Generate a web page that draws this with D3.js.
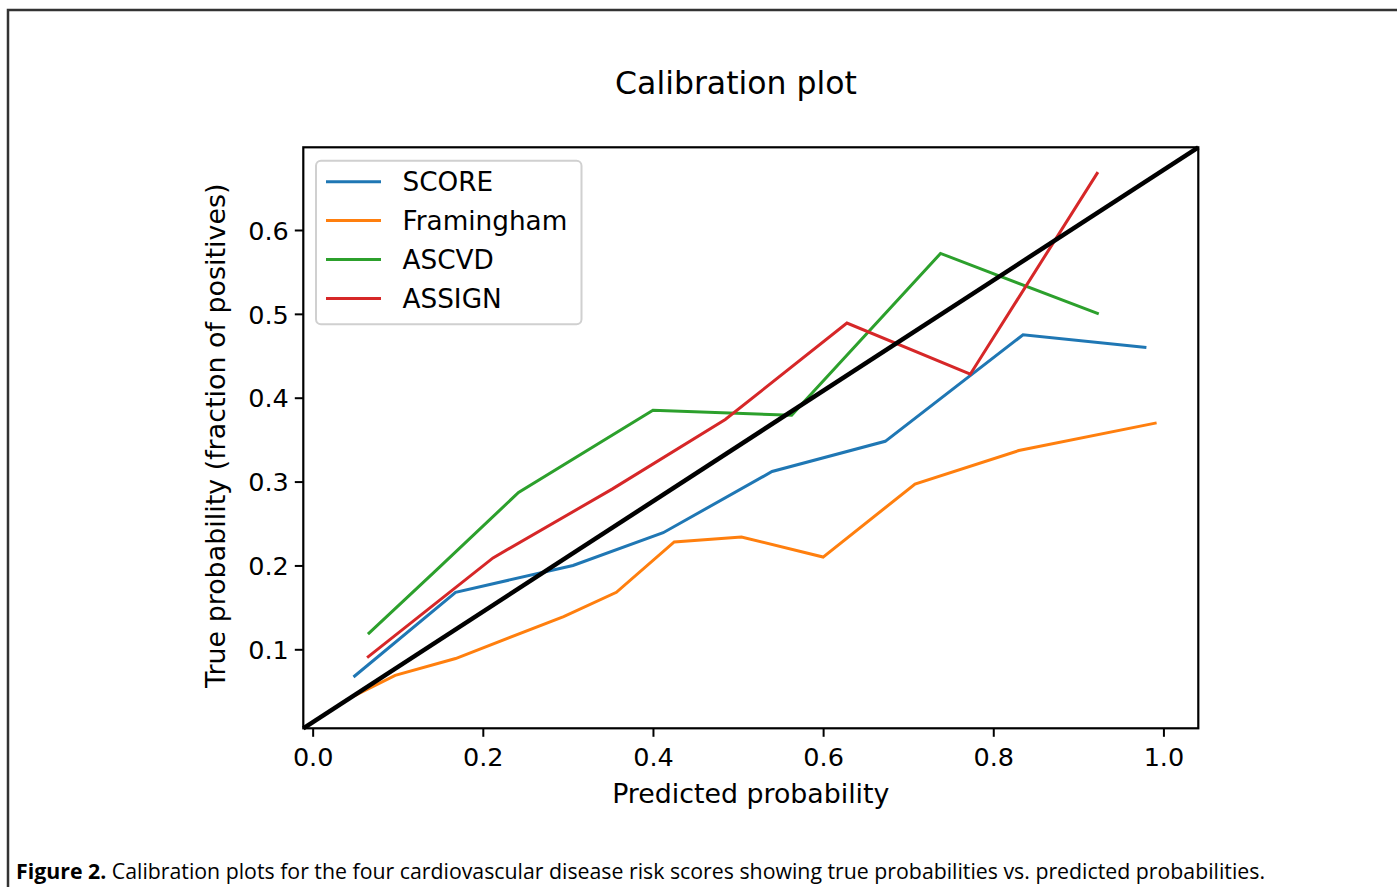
<!DOCTYPE html>
<html>
<head>
<meta charset="utf-8">
<script src="https://cdn.jsdelivr.net/npm/d3@7"></script>
<style>
  body { margin: 0; background: #fff; }
  svg { display: block; }
</style>
</head>
<body>
<div id="chart"></div>
<script>
// series (predicted prob, true prob)
var series_names = ['SCORE', 'Framingham', 'ASCVD', 'ASSIGN'];
var series_colors = ['#1f77b4', '#ff7f0e', '#2ca02c', '#d62728'];

var score_x = [0.048, 0.168, 0.306, 0.412, 0.540, 0.673, 0.835, 0.980];
var score_y = [0.067, 0.168, 0.200, 0.239, 0.312, 0.348, 0.475, 0.460];

var fram_x = [0.048, 0.097, 0.168, 0.295, 0.357, 0.425, 0.504, 0.600, 0.708, 0.830, 0.992];
var fram_y = [0.044, 0.069, 0.089, 0.139, 0.168, 0.228, 0.234, 0.210, 0.297, 0.337, 0.370];

var ascvd_x = [0.065, 0.146, 0.242, 0.400, 0.563, 0.738, 0.924];
var ascvd_y = [0.118, 0.195, 0.287, 0.385, 0.379, 0.572, 0.500];

var assign_x = [0.064, 0.212, 0.352, 0.485, 0.628, 0.773, 0.923];
var assign_y = [0.090, 0.209, 0.291, 0.374, 0.489, 0.428, 0.669];

var x_ticks = [0.0, 0.2, 0.4, 0.6, 0.8, 1.0];
var y_ticks = [0.1, 0.2, 0.3, 0.4, 0.5, 0.6];

var all_x = [score_x, fram_x, ascvd_x, assign_x];
var all_y = [score_y, fram_y, ascvd_y, assign_y];

var width = 1397;
var height = 887;
var font = "'DejaVu Sans', sans-serif";

var svg = d3
  .select('#chart')
  .append('svg')
  .attr('width', width)
  .attr('height', height);

// frame of the figure box (open at right and bottom)
svg.append('path')
  .attr('d', 'M' + 8 + ',' + height + 'V10H' + width)
  .attr('fill', 'none')
  .attr('stroke', '#333')
  .attr('stroke-width', 2.5);

// plot area (note: "top" is reserved on window, so prefix names)
var p_left = 303.3, p_right = 1198.3, p_top = 147.3, p_bottom = 728.3;

var x_scale = d3.scaleLinear()
  .domain([-0.011, 1.041])
  .range([p_left, p_right]);
var y_scale = d3.scaleLinear()
  .domain([0.0058, 0.6986])
  .range([p_bottom, p_top]);

// axes
var x_axis = d3.axisBottom(x_scale)
  .tickValues(x_ticks)
  .tickFormat(d3.format('.1f'))
  .tickSizeOuter(0)
  .tickSize(8.5)
  .tickPadding(6);
var y_axis = d3.axisLeft(y_scale)
  .tickValues(y_ticks)
  .tickFormat(d3.format('.1f'))
  .tickSizeOuter(0)
  .tickSize(8.5)
  .tickPadding(6);

var gx = svg.append('g')
  .attr('transform', 'translate(0,' + p_bottom + ')')
  .call(x_axis);
var gy = svg.append('g')
  .attr('transform', 'translate(' + p_left + ',0)')
  .call(y_axis);

[gx, gy].forEach(function(g) {
  g.select('.domain').remove();
  g.selectAll('.tick line').attr('stroke', '#000').attr('stroke-width', 2);
  g.selectAll('.tick text')
    .attr('fill', '#000')
    .attr('font-family', font)
    .attr('font-size', 25.5);
});
gx.selectAll('.tick text').attr('dy', '0.9em');
gy.selectAll('.tick text').attr('dy', '0.36em');

// lines
var plot = svg.append('g');
var line = d3.line()
  .x(function(d) { return x_scale(d[0]); })
  .y(function(d) { return y_scale(d[1]); });

var line_data = all_x.map(function(xs, i) {
  return xs.map(function(v, j) { return [v, all_y[i][j]]; });
});

plot.selectAll('path.series')
  .data(line_data)
  .enter()
  .append('path')
  .attr('class', 'series')
  .attr('d', line)
  .attr('fill', 'none')
  .attr('stroke', function(d, i) { return series_colors[i]; })
  .attr('stroke-width', 3)
  .attr('stroke-linejoin', 'miter');

// perfectly calibrated reference, drawn corner to corner
var diag = [[x_scale.domain()[0], y_scale.domain()[0]], [x_scale.domain()[1], y_scale.domain()[1]]];
plot.append('path')
  .attr('d', line(diag))
  .attr('fill', 'none')
  .attr('stroke', '#000')
  .attr('stroke-width', 4.5);

// axes box
svg.append('rect')
  .attr('x', p_left)
  .attr('y', p_top)
  .attr('width', p_right - p_left)
  .attr('height', p_bottom - p_top)
  .attr('fill', 'none')
  .attr('stroke', '#000')
  .attr('stroke-width', 2.2);

// legend
var legend = svg.append('g');
legend.append('rect')
  .attr('x', 316)
  .attr('y', 160.7)
  .attr('width', 265.5)
  .attr('height', 163.5)
  .attr('rx', 5)
  .attr('fill', '#fff')
  .attr('fill-opacity', 0.8)
  .attr('stroke', '#d0d0d0')
  .attr('stroke-width', 2);

var rows = legend.selectAll('g.row')
  .data(series_names)
  .enter()
  .append('g')
  .attr('class', 'row')
  .attr('transform', function(d, i) { return 'translate(0,' + (181.7 + i * 38.9) + ')'; });
rows.append('line')
  .attr('x1', 326)
  .attr('x2', 381)
  .attr('stroke', function(d, i) { return series_colors[i]; })
  .attr('stroke-width', 3);
rows.append('text')
  .attr('x', 402.5)
  .attr('dy', '0.36em')
  .attr('font-family', font)
  .attr('font-size', 26.3)
  .text(function(d) { return d; });

// titles
svg.append('text')
  .attr('x', 736)
  .attr('y', 94)
  .attr('text-anchor', 'middle')
  .attr('font-family', font)
  .attr('font-size', 31.5)
  .text('Calibration plot');

svg.append('text')
  .attr('x', (p_left + p_right) / 2)
  .attr('y', 803)
  .attr('text-anchor', 'middle')
  .attr('font-family', font)
  .attr('font-size', 26.8)
  .text('Predicted probability');

svg.append('text')
  .attr('transform', 'translate(225,' + ((p_top + p_bottom) / 2 - 2) + ') rotate(-90)')
  .attr('text-anchor', 'middle')
  .attr('font-family', font)
  .attr('font-size', 26.9)
  .text('True probability (fraction of positives)');

// figure caption
var cap = svg.append('text')
  .attr('x', 16)
  .attr('y', 879)
  .attr('font-family', "'Open Sans', sans-serif")
  .attr('font-size', 21)
  .attr('textLength', 1249)
  .attr('lengthAdjust', 'spacingAndGlyphs');
cap.append('tspan').attr('font-weight', 'bold').text('Figure 2.');
cap.append('tspan').text(' Calibration plots for the four cardiovascular disease risk scores showing true probabilities vs. predicted probabilities.');
</script>
</body>
</html>
